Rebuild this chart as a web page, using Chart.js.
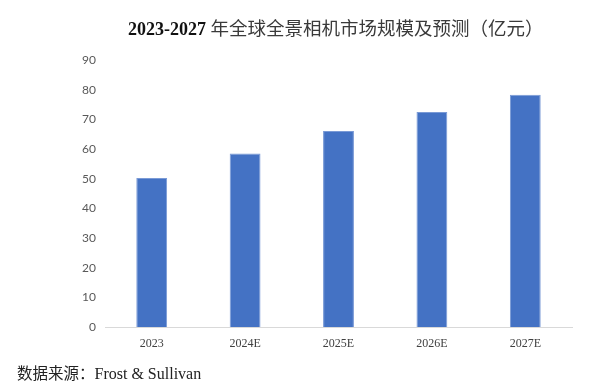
<!DOCTYPE html>
<html>
<head>
<meta charset="utf-8">
<script src="https://cdn.jsdelivr.net/npm/chart.js@4"></script>
<style>
    html, body { margin: 0; padding: 0; background: #fff; }
    #wrap { position: relative; width: 600px; height: 384px; overflow: hidden; }
    #chart { position: absolute; left: 0; top: 0; }
    .title {
        position: absolute; left: 128px; top: 15px;
        font-size: 18px; line-height: 24px; white-space: nowrap;
    }
    .title b { font-family: "Liberation Serif", serif; color: #111; }
    .title span { font-family: "Noto Sans CJK SC", sans-serif; color: #3a3a3a; font-weight: 400; font-size: 18.5px; }
    .source {
        position: absolute; left: 17px; top: 362px; font-size: 16px; line-height: 20px;
        color: #222; white-space: nowrap;
    }
    .source .cn { font-family: "Noto Sans CJK SC", sans-serif; font-size: 15.5px; }
    .source .en { font-family: "Liberation Serif", serif; }
</style>
</head>
<body>
<div id="wrap">
    <canvas id="chart" width="600" height="384"></canvas>
    <div class="title"><b>2023-2027</b> <span>年全球全景相机市场规模及预测（亿元）</span></div>
    <div class="source"><span class="cn">数据来源：</span><span class="en">Frost &amp; Sullivan</span></div>
</div>
<script>
const categories = ['2023', '2024E', '2025E', '2026E', '2027E'];
const marketSize = [50.2, 58.5, 66.1, 72.5, 78.3];
const yTicks = [0, 10, 20, 30, 40, 50, 60, 70, 80, 90];

const ctx = document.getElementById('chart');

new Chart(ctx, {
    type: 'bar',
    data: {
        labels: categories,
        datasets: [
            {
                label: '全景相机市场规模',
                data: marketSize,
                backgroundColor: '#4472C4',
                borderColor: '#7a9ad6',
                borderWidth: 1,
                barPercentage: 0.33,
                categoryPercentage: 1
            }
        ]
    },
    options: {
        responsive: false,
        animation: false,
        layout: { padding: { left: 55, right: 28, top: 60, bottom: 32 } },
        scales: {
            y: {
                min: 0,
                max: 90,
                afterBuildTicks: s => { s.ticks = yTicks.map(v => ({ value: v })); },
                afterFit: s => { s.width = 50; },
                grid: { display: false, drawTicks: false },
                border: { display: false },
                ticks: {
                    color: '#595959',
                    padding: 9,
                    font: { family: 'Lato, "Open Sans", sans-serif', size: 12 }
                }
            },
            x: {
                afterFit: s => { s.height = 25; },
                grid: { display: false, drawTicks: false },
                border: { display: true, color: '#d9d9d9', width: 1 },
                ticks: {
                    color: '#404040',
                    padding: 10,
                    font: { family: '"Liberation Serif", serif', size: 12 }
                }
            }
        },
        plugins: {
            legend: { display: false },
            tooltip: { enabled: false }
        }
    }
});
</script>
</body>
</html>
